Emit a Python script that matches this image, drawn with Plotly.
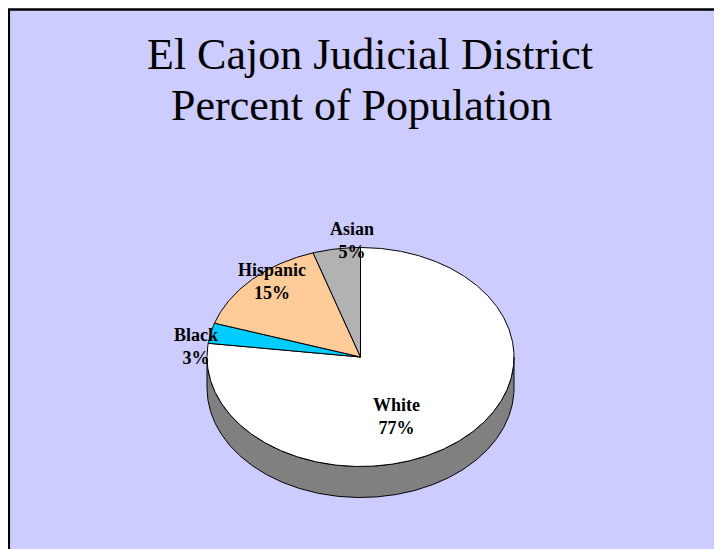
import numpy as np
import plotly.graph_objects as go

# ---- data ----
categories = ["White", "Black", "Hispanic", "Asian"]
values = [77, 3, 15, 5]
title_lines = ["El Cajon Judicial District", "Percent of Population"]

# ---- styles / layout (not data) ----
slice_colors = ["#FFFFFF", "#00CCFF", "#FFCC99", "#B2B2B2"]
side_color = "#808080"
bg_color = "#CCCCFF"
label_pos = [(396, 416), (196, 346), (272, 281), (352, 240)]
title_pos = [(370, 54), (361, 105)]

OFF = 8  # page body margin
W, H = 722, 549
cx, cy, rx, ry, depth = 360.5, 357.0, 153.5, 109.5, 31.0


def ellipse_pts(a0, a1, dy=0.0, n=None):
    if n is None:
        n = max(4, int(abs(a1 - a0) * 2))
    t = np.radians(np.linspace(a0, a1, n))
    return cx + rx * np.sin(t), cy - ry * np.cos(t) + dy


fig = go.Figure()

total = float(sum(values))
angles = np.concatenate([[0.0], np.cumsum(values) / total * 360.0])

# side of the pie (front visible half, 90..270 deg)
for i in range(len(values)):
    a0, a1 = max(angles[i], 90.0), min(angles[i + 1], 270.0)
    if a1 <= a0:
        continue
    xt, yt = ellipse_pts(a0, a1)
    xb, yb = ellipse_pts(a1, a0, dy=depth)
    xs = np.concatenate([xt, xb, xt[:1]])
    ys = np.concatenate([yt, yb, yt[:1]])
    fig.add_trace(go.Scatter(x=xs, y=ys, mode="lines", fill="toself",
                             fillcolor=side_color,
                             line=dict(color="black", width=1),
                             hoverinfo="skip", showlegend=False))

# top faces
for i, (cat, v) in enumerate(zip(categories, values)):
    xa, ya = ellipse_pts(angles[i], angles[i + 1])
    xs = np.concatenate([[cx], xa, [cx]])
    ys = np.concatenate([[cy], ya, [cy]])
    fig.add_trace(go.Scatter(x=xs, y=ys, mode="lines", fill="toself",
                             fillcolor=slice_colors[i],
                             line=dict(color="black", width=1),
                             name=cat, hoverinfo="skip", showlegend=False))

# labels
for cat, v, (lx, ly) in zip(categories, values, label_pos):
    fig.add_annotation(x=lx, y=ly, xref="x", yref="y",
                       text=f"<b>{cat}</b><br><b>{v}%</b>",
                       showarrow=False, xanchor="center", yanchor="middle",
                       font=dict(family="Liberation Serif", size=18, color="black"))

# title
for line, (tx, ty) in zip(title_lines, title_pos):
    fig.add_annotation(x=tx, y=ty, xref="x", yref="y", text=line,
                       showarrow=False, xanchor="center", yanchor="middle",
                       font=dict(family="Liberation Serif", size=44, color="black"))

fig.add_shape(type="rect", xref="x", yref="y", x0=8.8, y0=9.5, x1=760, y1=600,
              fillcolor=bg_color, line=dict(color="black", width=2.5),
              layer="below")

fig.update_layout(
    width=W - OFF, height=H - OFF, margin=dict(l=0, r=0, t=0, b=0),
    paper_bgcolor="white", plot_bgcolor="white",
    xaxis=dict(range=[OFF, W], visible=False, fixedrange=True),
    yaxis=dict(range=[H, OFF], visible=False, fixedrange=True),
    showlegend=False,
)

fig.write_html("out.html")
